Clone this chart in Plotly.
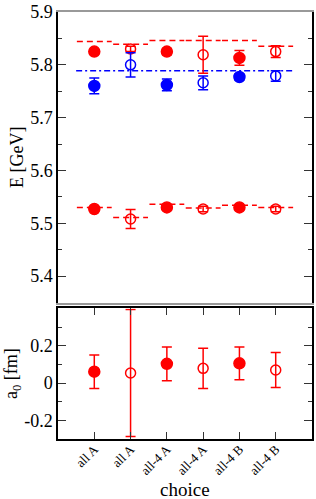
import plotly.graph_objects as go
from plotly.subplots import make_subplots

categories = ["all A", "all A", "all-4 A", "all-4 A", "all-4 B", "all-4 B"]
xpos = [1, 2, 3, 4, 5, 6]
filled_idx = [0, 2, 4]
open_idx = [1, 3, 5]

# upper red level
red_up = [5.825, 5.830, 5.825, 5.819, 5.813, 5.825]
red_up_err = [0.004, 0.005, 0.006, 0.035, 0.014, 0.011]
red_up_line = [5.844, 5.839, 5.846, 5.846, 5.846, 5.835]

# blue level
blue = [5.760, 5.800, 5.762, 5.766, 5.777, 5.779]
blue_err = [0.015, 0.023, 0.011, 0.013, 0.006, 0.010]
blue_line = 5.789

# lower red level
red_lo = [5.527, 5.508, 5.530, 5.527, 5.530, 5.527]
red_lo_err = [0.003, 0.018, 0.003, 0.005, 0.003, 0.005]
red_lo_line = [5.530, 5.511, 5.536, 5.529, 5.534, 5.530]

# scattering length
a0 = [0.061, 0.054, 0.103, 0.079, 0.106, 0.070]
a0_err = [0.090, 0.340, 0.090, 0.108, 0.088, 0.094]

RED = "#ff0000"
BLUE = "#0000ff"
FONT = "Liberation Serif, serif"

fig = make_subplots(rows=2, cols=1, row_heights=[0.69, 0.31], vertical_spacing=0.014)

def pick(lst, idx):
    return [lst[i] for i in idx]

def add_pts(vals, errs, color, row):
    for idx, filled in ((filled_idx, True), (open_idx, False)):
        fig.add_trace(go.Scatter(
            x=pick(xpos, idx), y=pick(vals, idx), mode="markers",
            marker=dict(symbol="circle" if filled else "circle-open", size=11 if filled else 10,
                        color=color, line=dict(color=color, width=1.5)),
            error_y=dict(type="data", array=pick(errs, idx), color=color, thickness=1.5, width=5),
            showlegend=False), row=row, col=1)

# horizontal reference segments
for i, v in enumerate(red_up_line):
    fig.add_trace(go.Scatter(x=[xpos[i] - 0.48, xpos[i] + 0.48], y=[v, v], mode="lines",
                             line=dict(color=RED, dash="6px,4px", width=1.5), showlegend=False), row=1, col=1)
for i, v in enumerate(red_lo_line):
    fig.add_trace(go.Scatter(x=[xpos[i] - 0.48, xpos[i] + 0.48], y=[v, v], mode="lines",
                             line=dict(color=RED, dash="6px,4px", width=1.5), showlegend=False), row=1, col=1)
fig.add_trace(go.Scatter(x=[xpos[0] - 0.5, xpos[-1] + 0.5], y=[blue_line, blue_line], mode="lines",
                         line=dict(color=BLUE, dash="6px,3px,2px,3px", width=1.5), showlegend=False), row=1, col=1)

add_pts(red_up, red_up_err, RED, 1)
add_pts(blue, blue_err, BLUE, 1)
add_pts(red_lo, red_lo_err, RED, 1)
add_pts(a0, a0_err, RED, 2)

fig.update_xaxes(range=[0, 7], showgrid=False, zeroline=False, row=1, col=1,
                 showticklabels=False, ticks="", showline=True, linecolor="#999999", linewidth=1.5, mirror=True)
fig.update_xaxes(range=[0, 7], showgrid=False, zeroline=False, row=2, col=1,
                 tickvals=xpos, ticktext=categories, tickangle=-45, ticks="inside", ticklen=7,
                 tickcolor="#333333", tickwidth=1.2, ticklabelstandoff=-4,
                 showline=True, linecolor="black", linewidth=1.5, mirror="ticks",
                 tickfont=dict(family=FONT, size=13, color="black"))
fig.update_yaxes(range=[5.35, 5.9], dtick=0.1, tick0=5.4, tickformat=".1f", showgrid=False, zeroline=False,
                 ticks="inside", ticklen=8, tickcolor="#333333", tickwidth=1.2,
                 minor=dict(dtick=0.05, ticks="inside", ticklen=4, tickcolor="#333333", tickwidth=1.2),
                 showline=True, linecolor="black", linewidth=1.5, mirror="ticks",
                 tickfont=dict(family=FONT, size=18, color="black"),
                 title=dict(text="E [GeV]", font=dict(family=FONT, size=18, color="black"), standoff=2),
                 row=1, col=1)
fig.update_yaxes(range=[-0.3, 0.4], tickvals=[-0.2, 0, 0.2], ticktext=["-0.2", "0", "0.2"],
                 showgrid=False, zeroline=False,
                 ticks="inside", ticklen=8, tickcolor="#333333", tickwidth=1.2,
                 minor=dict(tickvals=[-0.1, 0.1, 0.3], ticks="inside", ticklen=4, tickcolor="#333333", tickwidth=1.2),
                 showline=True, linecolor="black", linewidth=1.5, mirror="ticks",
                 tickfont=dict(family=FONT, size=18, color="black"),
                 title=dict(text="a<sub>0</sub> [fm]", font=dict(family=FONT, size=18, color="black"), standoff=2),
                 row=2, col=1)

fig.add_annotation(text="choice", xref="paper", yref="paper", x=0.5, y=-51 / 429,
                   xanchor="center", yanchor="middle", showarrow=False,
                   font=dict(family=FONT, size=19, color="black"))

fig.update_layout(width=316, height=499, margin=dict(l=58, r=2, t=10, b=60),
                  plot_bgcolor="white", paper_bgcolor="white", showlegend=False,
                  font=dict(family=FONT, color="black"))

fig.write_html("out.html", config={"displayModeBar": False},
               post_script="document.body.style.margin='0px';document.body.style.padding='0px';")
